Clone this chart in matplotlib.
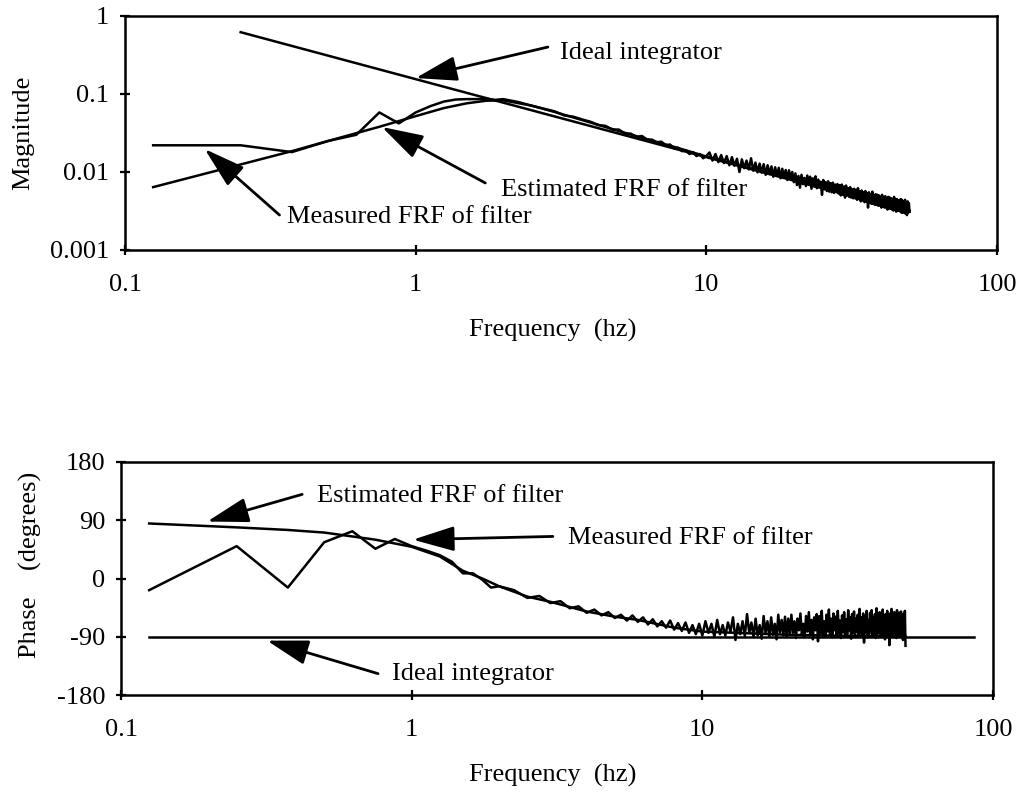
import numpy as np
import matplotlib
matplotlib.use("Agg")
import matplotlib.pyplot as plt

plt.rcParams['font.family'] = ['Liberation Serif', 'DejaVu Serif']

# measured FRF frequency grid (Hz)
f_meas = np.concatenate([np.arange(1, 17) * 0.125,
                         np.arange(9, 201) * 0.25])

# measured magnitude, in units of 1e-3
mag_meas_milli = [
    # 0.125 .. 2 Hz
    22, 22, 18, 25, 30, 58, 42, 58, 70, 80, 85, 86, 86, 87, 84, 86,
    # 2.25 .. 10 Hz
    79, 71, 65, 60, 53, 51, 47, 44, 40, 39, 35, 35, 31, 31, 28, 29,
    26, 26, 24, 24.5, 22, 22.5, 20, 20.5, 18.5, 19, 17, 18, 16, 17, 15, 16,
    # 10.25 .. 20 Hz
    17.8, 14.0, 17.0, 13.4, 16.5, 13.0, 16.0, 12.2, 15.5, 12.0, 14.8, 10.0,
    14.5, 11.2, 14.0, 10.8, 15.0, 10.4, 13.2, 9.9, 12.8, 9.8, 12.6, 9.2,
    12.2, 9.4, 11.8, 8.7, 11.5, 8.9, 11.3, 8.3, 11.0, 8.4, 10.6, 7.9,
    10.5, 8.0, 10.0, 7.4,
    # 20.25 .. 50 Hz
    9.6, 6.8, 8.9, 6.3, 9.2, 7.0, 8.4, 6.6, 9.0, 6.9, 8.7, 6.1,
    8.3, 6.5, 8.8, 6.2, 8.0, 6.4, 7.5, 5.1, 7.9, 6.0, 7.4, 5.7,
    7.6, 5.6, 7.2, 5.5, 7.3, 5.4, 6.9, 5.6, 7.0, 5.3, 6.8, 5.0,
    6.9, 5.1, 6.5, 4.7, 6.7, 5.0, 6.2, 4.8, 6.4, 4.7, 6.0, 4.6,
    6.1, 4.6, 5.9, 4.4, 6.2, 4.5, 5.6, 4.2, 5.8, 4.3, 5.5, 4.1,
    5.7, 4.2, 5.3, 3.5, 5.5, 4.1, 5.2, 3.9, 5.6, 3.9, 5.0, 3.8,
    5.2, 3.8, 5.1, 3.7, 5.0, 3.7, 4.8, 3.5, 5.1, 3.6, 4.7, 3.5,
    4.9, 3.5, 4.6, 3.3, 4.8, 3.4, 4.7, 3.4, 4.6, 3.3, 4.5, 3.2,
    4.8, 3.3, 4.4, 3.1, 4.5, 3.2, 4.3, 3.2, 4.4, 3.1, 4.5, 3.0,
    4.3, 3.0, 4.2, 3.1, 4.4, 2.9, 4.1, 2.8, 4.2, 3.0, 4.0, 3.1,
]

# measured phase (degrees)
phase_meas = [
    # 0.125 .. 2 Hz
    -18, 50, -14, 56, 73, 46, 61, 50, 43, 36, 26, 8, 8, -2, -14, -12,
    # 2.25 .. 10 Hz
    -18, -30, -27, -38, -35, -46, -43, -53, -48, -57, -52, -61, -56, -65, -57, -67,
    -60, -71, -63, -74, -66, -76, -65, -79, -69, -81, -68, -84, -72, -86, -70, -88,
    # 10.25 .. 20 Hz
    -66, -84, -70, -90, -64, -86, -72, -88, -68, -82, -60, -95,
    -70, -86, -66, -89, -55, -84, -68, -90, -62, -88, -72, -93,
    -58, -84, -66, -90, -60, -87, -70, -94, -56, -83, -64, -88,
    -59, -90, -62, -86,
    # 20.25 .. 50 Hz
    -56, -84, -66, -92, -62, -80, -54, -88, -70, -90, -58, -82,
    -52, -86, -64, -94, -60, -80, -55, -97, -58, -84, -50, -88,
    -66, -90, -56, -82, -48, -86, -62, -91, -54, -80, -59, -88,
    -50, -85, -65, -92, -57, -83, -52, -90, -63, -86, -49, -80,
    -60, -93, -55, -84, -51, -88, -62, -82, -56, -90, -47, -85,
    -60, -87, -54, -99, -58, -83, -50, -91, -64, -86, -53, -80,
    -49, -88, -60, -84, -55, -92, -46, -86, -61, -83, -52, -90,
    -57, -87, -48, -82, -63, -94, -55, -85, -50, -88, -59, -103,
    -54, -84, -47, -89, -60, -86, -52, -81, -56, -92, -49, -87,
    -62, -84, -53, -90, -51, -86, -58, -95, -55, -88, -50, -104,
]

# estimated FRF of the filter
f_est = [0.125, 0.25, 0.375, 0.5, 0.75, 1, 1.25, 1.5, 1.75, 2, 2.5, 3,
         4, 5, 6, 8, 10, 15, 20, 30, 40, 50]
mag_est = [0.0064, 0.0125, 0.0185, 0.025, 0.038, 0.052, 0.066, 0.076, 0.082,
           0.083, 0.071, 0.059, 0.043, 0.0335, 0.0275, 0.0203, 0.0158, 0.0106,
           0.0079, 0.0053, 0.0040, 0.0032]
phase_est = [85, 79, 75, 71, 60, 49, 34, 12, 0, -12, -28, -36, -51, -59, -64,
             -76, -82, -85, -87, -88.5, -89, -89.5]

# ideal integrator
f_ideal_mag = [0.25, 1, 10, 50]
mag_ideal = [0.62, 0.155, 0.0155, 0.0031]
f_ideal_phase = [0.125, 86]
phase_ideal = [-90, -90]

mag_meas = np.array(mag_meas_milli) / 1000.0

W, H = 1036, 792
fig = plt.figure(figsize=(W / 100, H / 100), dpi=100)
ax1 = fig.add_axes([125 / W, 1 - 250 / H, 872 / W, 234 / H])
ax2 = fig.add_axes([121 / W, 1 - 695 / H, 872 / W, 233 / H])

lw = 1.8
ax1.plot(f_ideal_mag, mag_ideal, color='black', lw=lw)
ax1.plot(f_est, mag_est, color='black', lw=lw)
ax1.plot(f_meas, mag_meas, color='black', lw=lw)

ax2.plot(f_ideal_phase, phase_ideal, color='black', lw=lw)
ax2.plot(f_est, phase_est, color='black', lw=lw)
ax2.plot(f_meas, phase_meas, color='black', lw=lw)

fs = 19
for ax in (ax1, ax2):
    ax.set_xscale('log')
    ax.set_xlim(0.1, 100)
    ax.set_xticks([0.1, 1, 10, 100])
    ax.set_xticklabels(['0.1', '1', '10', '100'])
    ax.minorticks_off()
    ax.tick_params(axis='x', direction='inout', length=7, width=1.6, pad=14, labelsize=fs)
    ax.tick_params(axis='y', direction='inout', length=7, width=1.6, pad=8, labelsize=fs)
    for s in ax.spines.values():
        s.set_linewidth(1.8)

ax1.set_yscale('log')
ax1.set_ylim(0.001, 1)
ax1.set_yticks([0.001, 0.01, 0.1, 1])
ax1.set_yticklabels(['0.001', '0.01', '0.1', '1'])
ax1.minorticks_off()

ax2.set_ylim(-180, 180)
ax2.set_yticks([-180, -90, 0, 90, 180])
ax2.set_yticklabels(['-180', '-90', '0', '90', '180'])

fig.text(23 / W, 1 - 133 / H, 'Magnitude', rotation=90, ha='center', va='center', fontsize=fs)
fig.text(30 / W, 1 - 565 / H, 'Phase    (degrees)', rotation=90, ha='center', va='center', fontsize=fs)
fig.text(553 / W, 1 - 330 / H, 'Frequency  (hz)', ha='center', va='center', fontsize=fs)
fig.text(553 / W, 1 - 775 / H, 'Frequency  (hz)', ha='center', va='center', fontsize=fs)

arrow = dict(arrowstyle='-|>,head_length=1.5,head_width=0.45', color='black',
             lw=2.0, mutation_scale=17, shrinkA=0, shrinkB=0)

# magnitude annotations
ax1.annotate('', xy=(1.0, 0.16), xytext=(2.85, 0.40), arrowprops=arrow)
ax1.text(3.14, 0.336, 'Ideal integrator', ha='left', va='center', fontsize=fs)
ax1.annotate('', xy=(0.765, 0.0378), xytext=(1.736, 0.00723), arrowprops=arrow)
ax1.text(1.97, 0.00588, 'Estimated FRF of filter', ha='left', va='center', fontsize=fs)
ax1.annotate('', xy=(0.188, 0.0197), xytext=(0.34, 0.00281), arrowprops=arrow)
ax1.text(0.361, 0.00265, 'Measured FRF of filter', ha='left', va='center', fontsize=fs)

# phase annotations
ax2.annotate('', xy=(0.198, 88), xytext=(0.42, 130), arrowprops=arrow)
ax2.text(0.472, 127, 'Estimated FRF of filter', ha='left', va='center', fontsize=fs)
ax2.annotate('', xy=(1.01, 60), xytext=(3.06, 65), arrowprops=arrow)
ax2.text(3.45, 62, 'Measured FRF of filter', ha='left', va='center', fontsize=fs)
ax2.annotate('', xy=(0.318, -96), xytext=(0.766, -147), arrowprops=arrow)
ax2.text(0.855, -148, 'Ideal integrator', ha='left', va='center', fontsize=fs)

fig.savefig('out.png', dpi=100)
